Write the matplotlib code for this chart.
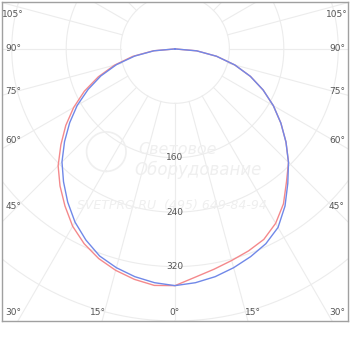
import numpy as np
import matplotlib
matplotlib.use("Agg")
import matplotlib.pyplot as plt

# polar angles (deg from nadir) and intensities (cd/klm), both sides of each plane
ANGLES = [0, 5, 10, 15, 20, 25, 30, 35, 40, 45, 50, 55, 60, 65, 70, 75, 80, 85, 90]
BLUE_RIGHT = [347, 345, 340, 333, 325, 316, 303, 282, 258, 236, 213, 190, 167, 143, 118, 91, 62, 32, 0]
BLUE_LEFT = [348, 345, 340, 333, 324, 310, 294, 275, 255, 235, 212, 189, 166, 141, 116, 89, 60, 31, 0]
RED_RIGHT = [347, 337, 329, 322, 316, 309, 296, 278, 255, 236, 213, 190, 167, 143, 118, 91, 62, 32, 0]
RED_LEFT = [348, 349, 344, 337, 328, 316, 301, 282, 263, 243, 219, 196, 172, 147, 120, 92, 63, 32, 0]

RINGS = [80, 160, 240, 320, 400]
RING_LABELS = [160, 240, 320]
SPOKES = np.arange(0, 360, 15)
ANGLE_LABELS = ['105°', '90°', '75°', '60°', '45°', '30°', '15°', '0°']
# label anchor points (left side, mirrored for the right)
LABEL_X = [-238, -238, -238, -238, -238, -238, -114, 0]
LABEL_Y = [50, 0, -63, -134, -232, -388, -388, -388]

RED = '#f4898c'
BLUE = '#7088e8'
GRID = '#ececec'
TXT = '#555555'


def to_xy(theta_deg, r):
    t = np.radians(np.asarray(theta_deg, dtype=float))
    r = np.asarray(r, dtype=float)
    return r * np.sin(t), -r * np.cos(t)


def curve(left, right):
    th = [-a for a in ANGLES[::-1]] + ANGLES[1:]
    rr = left[::-1] + right[1:]
    return to_xy(th, rr)


fig = plt.figure(figsize=(3.5, 3.5), dpi=100)
ax = fig.add_axes([2 / 350, 29 / 350, 346 / 350, 319 / 350])
ax.set_xlim(-254, 254)
ax.set_ylim(-400, 69)
ax.set_aspect('equal', adjustable='box')
ax.set_xticks([])
ax.set_yticks([])
for sp in ax.spines.values():
    sp.set_color('#a0a0a0')
    sp.set_linewidth(1.0)

# grid rings and spokes
phi = np.linspace(0, 360, 361)
for r in RINGS:
    x, y = to_xy(phi, np.full_like(phi, r))
    ax.plot(x, y, color=GRID, lw=0.8, zorder=1)
for a in SPOKES:
    x, y = to_xy([a, a], [RINGS[0], 800])
    ax.plot(x, y, color=GRID, lw=0.8, zorder=1)

# faint watermark
wm = '#efefef'
ax.text(4, -148, 'Световое', fontsize=11.5, style='italic', color=wm,
        ha='center', va='center', zorder=1)
ax.text(34, -178, 'Оборудование', fontsize=12, style='italic', color=wm,
        ha='center', va='center', zorder=1)
ax.text(-4, -230, 'SVETPRO.RU  (495) 649-84-94', fontsize=9, style='italic',
        color=wm, ha='center', va='center', zorder=1)
cx, cy = to_xy(phi, np.full_like(phi, 29))
ax.plot(cx - 101, cy - 151, color=wm, lw=1.2, zorder=1)

# ring values
for v in RING_LABELS:
    ax.text(0, -v, str(v), fontsize=6.5, color=TXT, ha='center', va='center',
            zorder=2)

# angle labels
for lab, lx, ly in zip(ANGLE_LABELS, LABEL_X, LABEL_Y):
    ax.text(lx, ly, lab, fontsize=6.5, color=TXT, ha='center', va='center')
    if lx != 0:
        ax.text(-lx, ly, lab, fontsize=6.5, color=TXT, ha='center', va='center')

# intensity curves
xr, yr = curve(RED_LEFT, RED_RIGHT)
ax.plot(xr, yr, color=RED, lw=1.0, zorder=3)
xb, yb = curve(BLUE_LEFT, BLUE_RIGHT)
ax.plot(xb, yb, color=BLUE, lw=1.0, zorder=4)

fig.savefig('out.png', dpi=100, facecolor='white')
